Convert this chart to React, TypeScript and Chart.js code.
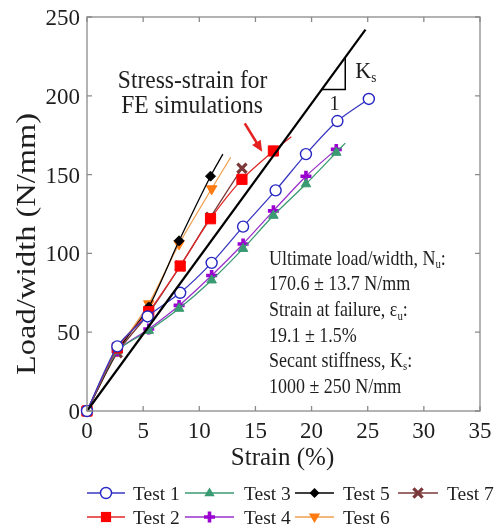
import React, { useEffect, useRef } from 'react';
import { Chart, registerables } from 'chart.js';
Chart.register(...registerables);

const FONT = "'Liberation Serif', 'Times New Roman', serif";
const TEXT = '#1e1e1e';

const xTicks = [0, 5, 10, 15, 20, 25, 30, 35];
const yTicks = [0, 50, 100, 150, 200, 250];

// Test series: strain (%) and load/width (N/mm) at marker points; tails = curve continuation without markers
const test1Strain = [0, 2.7, 5.4, 8.3, 11.1, 13.9, 16.8, 19.5, 22.3, 25.1];
const test1Load = [0, 41, 60, 75, 94, 117, 140, 163, 184, 198];
const test2Strain = [0, 2.7, 5.5, 8.3, 11.0, 13.8, 16.6];
const test2Load = [0, 40, 63, 92, 122, 147, 165];
const test2TailStrain = [18.2];
const test2TailLoad = [174];
const test3Strain = [0, 2.7, 5.5, 8.2, 11.1, 13.9, 16.6, 19.5, 22.2];
const test3Load = [0, 38, 51, 65, 83, 103, 124, 144, 164];
const test3TailStrain = [23.0];
const test3TailLoad = [170];
const test4Strain = [0, 2.7, 5.5, 8.2, 11.1, 13.9, 16.6, 19.5, 22.2];
const test4Load = [0, 38, 52, 67, 86, 106, 127, 149, 166];
const test5Strain = [0, 2.7, 5.5, 8.2, 11.0];
const test5Load = [0, 38, 66, 108, 149];
const test5TailStrain = [12.1];
const test5TailLoad = [163];
const test6Strain = [0, 2.7, 5.5, 8.2, 11.1];
const test6Load = [0, 38, 68, 106, 141];
const test6TailStrain = [12.8];
const test6TailLoad = [161];
const test7Strain = [0, 2.7, 5.5, 8.3, 11.0, 13.8];
const test7Load = [0, 37, 62, 92, 123, 154];

// Secant stiffness line and slope triangle
const ksStrain = [0, 24.8];
const ksLoad = [0, 242];
const triStrain = [20.9, 23.0, 23.0];
const triLoad = [204, 204, 224];

const labels = ['Test 1', 'Test 2', 'Test 3', 'Test 4', 'Test 5', 'Test 6', 'Test 7'];
const noteFE = ['Stress-strain for', 'FE simulations'];

type Style = { color: string; line: string; style: string; r: number; bw: number; rot?: number; fill: string };
const styles: Style[] = [
  { color: '#2626c4', line: '#3838c0', style: 'circle', r: 5.5, bw: 1.4, fill: '#ffffff' },
  { color: '#ff0000', line: '#e02828', style: 'rect', r: 7.2, bw: 1, fill: '#ff0000' },
  { color: '#3a9a72', line: '#3a9a72', style: 'triangle', r: 5.5, bw: 1, fill: '#3a9a72' },
  { color: '#9a00d0', line: '#9a30c8', style: 'cross', r: 5.5, bw: 3.6, fill: '#9a00d0' },
  { color: '#000000', line: '#000000', style: 'rectRot', r: 5, bw: 1, fill: '#000000' },
  { color: '#ff7a10', line: '#f0a050', style: 'triangle', r: 6, bw: 1, rot: 180, fill: '#ff7a10' },
  { color: '#7a3838', line: '#7a3838', style: 'crossRot', r: 6.5, bw: 3.2, fill: '#7a3838' },
];

function build(sx: number[], sy: number[], tx: number[] = [], ty: number[] = []) {
  const data = sx.map((x, i) => ({ x, y: sy[i] })).concat(tx.map((x, i) => ({ x, y: ty[i] })));
  const radius = sx.map(() => 1).concat(tx.map(() => 0));
  return { data, radius };
}

const series = [
  build(test1Strain, test1Load),
  build(test2Strain, test2Load, test2TailStrain, test2TailLoad),
  build(test3Strain, test3Load, test3TailStrain, test3TailLoad),
  build(test4Strain, test4Load),
  build(test5Strain, test5Load, test5TailStrain, test5TailLoad),
  build(test6Strain, test6Load, test6TailStrain, test6TailLoad),
  build(test7Strain, test7Load),
];

function drawMarker(ctx: CanvasRenderingContext2D, s: Style, x: number, y: number) {
  ctx.save();
  ctx.strokeStyle = s.color;
  ctx.fillStyle = s.fill;
  ctx.lineWidth = s.bw;
  const r = s.r;
  ctx.beginPath();
  if (s.style === 'circle') {
    ctx.arc(x, y, r, 0, Math.PI * 2);
    ctx.fill();
    ctx.stroke();
  } else if (s.style === 'rect') {
    const h = r * Math.SQRT1_2;
    ctx.fillRect(x - h, y - h, 2 * h, 2 * h);
  } else if (s.style === 'triangle') {
    const d = s.rot ? -1 : 1;
    ctx.moveTo(x, y - d * r);
    ctx.lineTo(x - r * 0.95, y + d * r * 0.6);
    ctx.lineTo(x + r * 0.95, y + d * r * 0.6);
    ctx.closePath();
    ctx.fill();
  } else if (s.style === 'cross') {
    ctx.moveTo(x - r, y); ctx.lineTo(x + r, y);
    ctx.moveTo(x, y - r); ctx.lineTo(x, y + r);
    ctx.stroke();
  } else if (s.style === 'rectRot') {
    ctx.moveTo(x, y - r); ctx.lineTo(x + r, y); ctx.lineTo(x, y + r); ctx.lineTo(x - r, y);
    ctx.closePath();
    ctx.fill();
  } else if (s.style === 'crossRot') {
    const h = r * Math.SQRT1_2;
    ctx.moveTo(x - h, y - h); ctx.lineTo(x + h, y + h);
    ctx.moveTo(x + h, y - h); ctx.lineTo(x - h, y + h);
    ctx.stroke();
  }
  ctx.restore();
}

function txt(ctx: CanvasRenderingContext2D, s: string, x: number, y: number, size: number, align: CanvasTextAlign = 'left', sy = 1) {
  ctx.save();
  ctx.translate(x, y);
  ctx.scale(1, sy);
  ctx.font = `${size}px ${FONT}`;
  ctx.textAlign = align;
  ctx.textBaseline = 'alphabetic';
  ctx.fillStyle = TEXT;
  ctx.fillText(s, 0, 0);
  ctx.restore();
}

// parts: [text, isSub]
function rich(ctx: CanvasRenderingContext2D, parts: [string, boolean][], x: number, y: number, size: number, sy = 1) {
  let cx = x;
  for (const [t, sub] of parts) {
    const fs = sub ? size * 0.6 : size;
    ctx.save();
    ctx.font = `${fs}px ${FONT}`;
    const w = ctx.measureText(t).width;
    ctx.restore();
    txt(ctx, t, cx, sub ? y + size * 0.18 : y, fs, 'left', sy);
    cx += w;
  }
}

const notePlugin = {
  id: 'notes',
  afterDraw(chart: any) {
    const ctx: CanvasRenderingContext2D = chart.ctx;
    const { left, right, top, bottom } = chart.chartArea;
    const xs = chart.scales.x;
    const ys = chart.scales.y;
    const X = (v: number) => xs.getPixelForValue(v);
    const Y = (v: number) => ys.getPixelForValue(v);

    // frame
    ctx.save();
    ctx.strokeStyle = '#8a8a8a';
    ctx.lineWidth = 1.3;
    ctx.strokeRect(left, top, right - left, bottom - top);
    ctx.beginPath();
    for (const v of xTicks) {
      const p = X(v);
      ctx.moveTo(p, bottom); ctx.lineTo(p, bottom - 5);
      ctx.moveTo(p, top); ctx.lineTo(p, top + 5);
    }
    for (const v of yTicks) {
      const p = Y(v);
      ctx.moveTo(left, p); ctx.lineTo(left + 5, p);
      ctx.moveTo(right, p); ctx.lineTo(right - 5, p);
    }
    ctx.stroke();
    ctx.restore();

    // tick labels
    for (const v of xTicks) txt(ctx, String(v), X(v), bottom + 27, 23, 'center', 1.03);
    for (const v of yTicks) txt(ctx, String(v), left - 7, Y(v) + 8, 23, 'right', 1.03);

    // axis titles
    txt(ctx, 'Strain (%)', (left + right) / 2 - 1, bottom + 54, 25, 'center');
    ctx.save();
    ctx.translate(35, 244);
    ctx.rotate(-Math.PI / 2);
    ctx.scale(1.2, 1);
    ctx.font = `27px ${FONT}`;
    ctx.textAlign = 'center';
    ctx.fillStyle = TEXT;
    ctx.fillText('Load/width (N/mm)', 0, 0);
    ctx.restore();

    // slope triangle label
    rich(ctx, [['K', false], ['s', true]], X(23.9), Y(211.3), 22, 1.05);
    txt(ctx, '1', X(21.6), Y(191), 20, 'left', 1.05);

    // FE note + arrow
    txt(ctx, noteFE[0], X(9.4), Y(205), 23.5, 'center', 1.07);
    txt(ctx, noteFE[1], X(9.35), Y(189), 23.5, 'center', 1.07);
    const ax0 = X(14.05), ay0 = Y(182.5), ax1 = X(15.6), ay1 = Y(164.5);
    const ang = Math.atan2(ay1 - ay0, ax1 - ax0);
    ctx.save();
    ctx.strokeStyle = '#e52020';
    ctx.fillStyle = '#e52020';
    ctx.lineWidth = 2.6;
    ctx.beginPath();
    ctx.moveTo(ax0, ay0);
    ctx.lineTo(ax1 - 8 * Math.cos(ang), ay1 - 8 * Math.sin(ang));
    ctx.stroke();
    ctx.beginPath();
    ctx.moveTo(ax1, ay1);
    ctx.lineTo(ax1 - 11 * Math.cos(ang) + 5 * Math.sin(ang), ay1 - 11 * Math.sin(ang) - 5 * Math.cos(ang));
    ctx.lineTo(ax1 - 11 * Math.cos(ang) - 5 * Math.sin(ang), ay1 - 11 * Math.sin(ang) + 5 * Math.cos(ang));
    ctx.closePath();
    ctx.fill();
    ctx.restore();

    // summary block
    const bx = X(16.2);
    const fs = 18;
    const sy = 1.12;
    rich(ctx, [['Ultimate load/width, N', false], ['u', true], [':', false]], bx, Y(92.6), fs, sy);
    txt(ctx, '170.6 \u00b1 13.7 N/mm', bx, Y(76.8), fs, 'left', sy);
    rich(ctx, [['Strain at failure, \u03b5', false], ['u', true], [':', false]], bx, Y(60.0), fs, sy);
    txt(ctx, '19.1 \u00b1 1.5%', bx, Y(43.5), fs, 'left', sy);
    rich(ctx, [['Secant stiffness, K', false], ['s', true], [':', false]], bx, Y(27.9), fs, sy);
    txt(ctx, '1000 \u00b1 250 N/mm', bx, Y(11.4), fs, 'left', sy);

    // legend (column-major, 2 rows)
    const cols = [
      { l0: 87, l1: 125, tx: 133 },
      { l0: 185, l1: 234, tx: 244 },
      { l0: 295, l1: 334, tx: 343 },
      { l0: 398, l1: 438, tx: 447 },
    ];
    const rows = [493, 517];
    labels.forEach((lab, i) => {
      const c = cols[Math.floor(i / 2)];
      const ry = rows[i % 2];
      const s = styles[i];
      ctx.save();
      ctx.strokeStyle = s.line;
      ctx.lineWidth = 1.6;
      ctx.beginPath();
      ctx.moveTo(c.l0, ry); ctx.lineTo(c.l1, ry);
      ctx.stroke();
      ctx.restore();
      drawMarker(ctx, s, (c.l0 + c.l1) / 2, ry);
      txt(ctx, lab, c.tx, ry + 7, 19.5, 'left', 1);
    });
  },
};

export default function App() {
  const ref = useRef<HTMLCanvasElement>(null);
  useEffect(() => {
    if (!ref.current) return;
    const datasets: any[] = [
      {
        label: 'Ks',
        data: ksStrain.map((x, i) => ({ x, y: ksLoad[i] })),
        borderColor: '#000000',
        borderWidth: 2.2,
        pointRadius: 0,
        tension: 0,
        clip: false,
      },
      {
        label: 'triangle',
        data: triStrain.map((x, i) => ({ x, y: triLoad[i] })),
        borderColor: '#000000',
        borderWidth: 1.5,
        pointRadius: 0,
        tension: 0,
        clip: false,
      },
    ];
    series.forEach((s, i) => {
      const st = styles[i];
      datasets.push({
        label: labels[i],
        data: s.data,
        borderColor: st.line,
        borderWidth: 1.3,
        tension: 0.25,
        pointStyle: st.style,
        pointRotation: st.rot || 0,
        pointRadius: s.radius.map((r) => r * st.r),
        pointBorderColor: st.color,
        pointBackgroundColor: st.fill,
        pointBorderWidth: st.bw,
        clip: false,
      });
    });
    const chart = new Chart(ref.current, {
      type: 'line',
      data: { datasets },
      options: {
        animation: false,
        responsive: true,
        maintainAspectRatio: false,
        layout: { padding: { left: 87, right: 19, top: 17, bottom: 117 } },
        plugins: { legend: { display: false }, tooltip: { enabled: false } },
        scales: {
          x: { type: 'linear', min: 0, max: 35, display: false },
          y: { type: 'linear', min: 0, max: 250, display: false },
        },
      },
      plugins: [notePlugin],
    });
    return () => chart.destroy();
  }, []);
  return (
    <div style={{ position: 'fixed', left: 0, top: 0, width: 499, height: 528, background: '#ffffff' }}>
      <canvas ref={ref} />
    </div>
  );
}
